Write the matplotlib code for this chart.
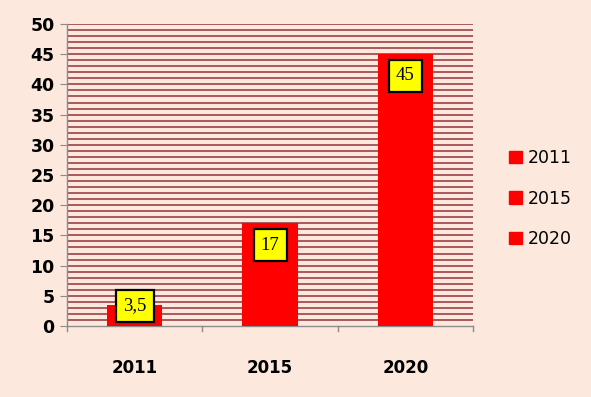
import matplotlib.pyplot as plt
import numpy as np

# chart data
categories = ['2011', '2015', '2020']
values = [3.5, 17, 45]
value_labels = ['3,5', '17', '45']
# where the label box sits (data units)
label_y = [3.3, 13.4, 41.4]

bg = '#fce8dc'
bar_color = '#ff0000'
grid_color = '#a8595e'

fig = plt.figure(figsize=(5.91, 3.97), dpi=100)
fig.patch.set_facecolor(bg)
ax = fig.add_axes([0.1134, 0.1788, 0.687, 0.7607])
ax.set_facecolor(bg)

x = np.arange(len(categories))
bars = ax.bar(x, values, width=0.41, color=bar_color, zorder=3)

# fine gridlines every unit
for yv in range(1, 51):
    ax.axhline(yv, color=grid_color, lw=1.4, zorder=1)

ax.set_xlim(-0.5, 2.5)
ax.set_ylim(0, 50)
ax.set_yticks(range(0, 51, 5))
ax.set_xticks(x)
ax.set_xticklabels(categories, fontsize=12, fontweight='bold', family='DejaVu Sans')
ax.tick_params(axis='x', length=0, pad=24)
ax.tick_params(axis='y', length=5, color='#8c8c8c', labelsize=12.5, pad=4)
for lab in ax.get_yticklabels():
    lab.set_fontweight('bold')

# category boundary ticks
for xb in [-0.5, 0.5, 1.5, 2.5]:
    ax.plot([xb, xb], [0, -0.9], color='#8c8c8c', lw=1, clip_on=False, zorder=4)

for side in ['top', 'right']:
    ax.spines[side].set_visible(False)
for side in ['left', 'bottom']:
    ax.spines[side].set_color('#8c8c8c')
    ax.spines[side].set_linewidth(1)

for xi, yl, txt in zip(x, label_y, value_labels):
    ax.text(xi, yl, txt, ha='center', va='center', fontsize=13.5,
            family='Liberation Serif', zorder=5,
            bbox=dict(boxstyle='square,pad=0.38', fc='#ffff00', ec='black', lw=1.6))

# legend: every entry is a red square
handles = [plt.Rectangle((0, 0), 1, 1, color=bar_color) for _ in categories]
leg = fig.legend(handles, categories, loc='center left',
                 bbox_to_anchor=(0.835, 0.5), frameon=False, fontsize=12.5,
                 handlelength=0.75, handleheight=0.75, handletextpad=0.3,
                 labelspacing=1.3)

fig.savefig('out.png', dpi=100, facecolor=bg)
